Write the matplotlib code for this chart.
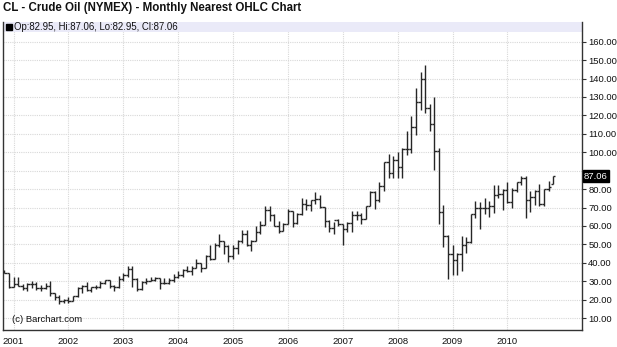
import matplotlib
matplotlib.use("Agg")
import matplotlib.pyplot as plt
from matplotlib.patches import Rectangle

plt.rcParams['font.family'] = ['Liberation Sans', 'DejaVu Sans']

months = [
    "2000-11", "2000-12",
    "2001-01", "2001-02", "2001-03", "2001-04", "2001-05", "2001-06", "2001-07", "2001-08", "2001-09", "2001-10", "2001-11", "2001-12",
    "2002-01", "2002-02", "2002-03", "2002-04", "2002-05", "2002-06", "2002-07", "2002-08", "2002-09", "2002-10", "2002-11", "2002-12",
    "2003-01", "2003-02", "2003-03", "2003-04", "2003-05", "2003-06", "2003-07", "2003-08", "2003-09", "2003-10", "2003-11", "2003-12",
    "2004-01", "2004-02", "2004-03", "2004-04", "2004-05", "2004-06", "2004-07", "2004-08", "2004-09", "2004-10", "2004-11", "2004-12",
    "2005-01", "2005-02", "2005-03", "2005-04", "2005-05", "2005-06", "2005-07", "2005-08", "2005-09", "2005-10", "2005-11", "2005-12",
    "2006-01", "2006-02", "2006-03", "2006-04", "2006-05", "2006-06", "2006-07", "2006-08", "2006-09", "2006-10", "2006-11", "2006-12",
    "2007-01", "2007-02", "2007-03", "2007-04", "2007-05", "2007-06", "2007-07", "2007-08", "2007-09", "2007-10", "2007-11", "2007-12",
    "2008-01", "2008-02", "2008-03", "2008-04", "2008-05", "2008-06", "2008-07", "2008-08", "2008-09", "2008-10", "2008-11", "2008-12",
    "2009-01", "2009-02", "2009-03", "2009-04", "2009-05", "2009-06", "2009-07", "2009-08", "2009-09", "2009-10", "2009-11", "2009-12",
    "2010-01", "2010-02", "2010-03", "2010-04", "2010-05", "2010-06", "2010-07", "2010-08", "2010-09", "2010-10", "2010-11",
]

opens = [
    35.0, 34.3,
    26.8, 28.7, 27.4, 26.3, 28.5, 28.4, 26.3, 26.4, 27.2, 23.4, 21.2, 19.4,
    19.8, 19.5, 21.7, 26.3, 27.3, 25.3, 26.9, 27.0, 29.0, 30.5, 27.2, 26.9,
    31.2, 33.5, 36.6, 31.0, 25.8, 29.6, 30.2, 30.5, 31.6, 29.2, 29.1, 30.4,
    32.5, 33.1, 36.2, 35.8, 37.4, 39.9, 37.1, 43.8, 42.1, 49.6, 51.8, 49.1,
    43.5, 48.2, 51.8, 55.4, 49.7, 52.0, 56.5, 60.6, 68.9, 66.2, 59.8, 57.3,
    61.0, 67.9, 61.4, 66.6, 71.9, 71.3, 73.9, 74.4, 70.3, 62.9, 58.7, 63.1,
    61.1, 58.1, 61.8, 65.9, 65.7, 64.0, 70.7, 78.2, 74.0, 81.7, 94.5, 88.7,
    96.0, 91.8, 101.8, 101.6, 113.5, 127.4, 140.0, 124.1, 115.5, 100.6, 67.8, 54.4,
    44.6, 41.7, 44.8, 49.7, 51.1, 66.3, 69.9, 69.5, 70.0, 70.6, 77.0, 77.3,
    79.4, 72.9, 79.7, 83.8, 86.2, 74.0, 75.6, 79.0, 71.9, 80.0, 82.95,
]

highs = [
    36.0, 34.5,
    32.2, 32.1, 28.3, 29.0, 30.2, 29.6, 27.7, 28.8, 30.0, 23.6, 22.6, 20.4,
    21.5, 21.9, 26.6, 27.7, 29.4, 27.0, 28.2, 30.0, 30.9, 30.9, 28.2, 32.7,
    34.6, 38.0, 38.0, 31.9, 30.0, 31.5, 32.4, 32.5, 31.8, 31.7, 32.0, 33.7,
    35.3, 36.4, 38.4, 38.3, 42.3, 40.0, 44.0, 49.4, 50.5, 55.7, 52.0, 49.4,
    49.5, 52.1, 57.6, 57.7, 52.5, 60.0, 62.5, 70.9, 70.8, 66.5, 62.5, 61.7,
    69.2, 68.0, 67.0, 75.4, 74.7, 74.0, 78.4, 77.0, 70.4, 63.4, 62.3, 64.0,
    61.1, 62.2, 68.1, 67.9, 66.8, 70.7, 78.8, 78.8, 83.9, 94.7, 99.3, 97.8,
    100.1, 102.1, 111.8, 119.9, 135.1, 143.7, 147.3, 126.3, 130.0, 102.2, 71.2, 55.0,
    49.6, 45.3, 54.7, 54.0, 66.6, 73.4, 72.9, 75.0, 73.4, 82.0, 82.0, 79.9,
    83.95, 80.5, 83.9, 87.2, 87.2, 79.1, 79.3, 82.8, 80.2, 84.4, 87.06,
]

lows = [
    34.3, 26.3,
    26.6, 27.3, 25.3, 24.9, 26.5, 25.4, 24.9, 25.9, 21.8, 19.9, 17.5, 17.9,
    17.9, 19.4, 21.2, 23.4, 24.9, 24.1, 25.8, 26.4, 28.5, 26.5, 24.9, 26.1,
    30.0, 32.5, 26.9, 24.8, 25.1, 28.5, 29.9, 30.1, 26.0, 28.3, 28.4, 29.6,
    31.8, 32.3, 35.0, 33.5, 37.0, 35.2, 37.0, 41.5, 42.0, 48.5, 45.0, 40.3,
    42.0, 44.9, 50.5, 49.2, 46.2, 52.0, 55.7, 60.6, 62.7, 59.8, 56.0, 57.2,
    61.0, 59.2, 60.9, 66.2, 68.5, 68.1, 72.0, 69.9, 59.5, 56.6, 55.5, 60.0,
    49.9, 56.9, 56.5, 63.0, 61.3, 64.0, 70.6, 69.0, 72.8, 78.7, 86.0, 86.1,
    86.1, 86.1, 98.7, 99.6, 109.1, 122.7, 121.4, 111.3, 90.5, 61.3, 48.3, 31.0,
    33.6, 33.6, 35.6, 45.3, 50.5, 64.4, 58.3, 66.5, 65.1, 66.8, 75.3, 68.6,
    72.4, 69.5, 78.2, 82.1, 64.2, 67.8, 71.1, 70.8, 70.8, 79.0, 82.95,
]

closes = [
    34.6, 26.8,
    28.7, 27.4, 26.3, 28.5, 28.4, 26.3, 26.4, 27.2, 23.4, 21.2, 19.4, 19.8,
    19.5, 21.7, 26.3, 27.3, 25.3, 26.9, 27.0, 29.0, 30.5, 27.2, 26.9, 31.2,
    33.5, 36.6, 31.0, 25.8, 29.6, 30.2, 30.5, 31.6, 29.2, 29.1, 30.4, 32.5,
    33.1, 36.2, 35.8, 37.4, 39.9, 37.1, 43.8, 42.1, 49.6, 51.8, 49.1, 43.5,
    48.2, 51.8, 55.4, 49.7, 52.0, 56.5, 60.6, 68.9, 66.2, 59.8, 57.3, 61.0,
    67.9, 61.4, 66.6, 71.9, 71.3, 73.9, 74.4, 70.3, 62.9, 58.7, 63.1, 61.1,
    58.1, 61.8, 65.9, 65.7, 64.0, 70.7, 78.2, 74.0, 81.7, 94.5, 88.7, 96.0,
    91.8, 101.8, 101.6, 113.5, 127.4, 140.0, 124.1, 115.5, 100.6, 67.8, 54.4, 44.6,
    41.7, 44.8, 49.7, 51.1, 66.3, 69.9, 69.5, 70.0, 70.6, 77.0, 77.3, 79.4,
    72.9, 79.7, 83.8, 86.2, 74.0, 75.6, 79.0, 71.9, 80.0, 81.4, 87.06,
]

year_labels = ["2001", "2002", "2003", "2004", "2005", "2006", "2007", "2008", "2009", "2010"]
price_ticks = [10, 20, 30, 40, 50, 60, 70, 80, 90, 100, 110, 120, 130, 140, 150, 160]

title = "CL - Crude Oil (NYMEX) - Monthly Nearest OHLC Chart"
legend_text = "Op:82.95, Hi:87.06, Lo:82.95, Cl:87.06"
last_price = closes[-1]


def month_index(s):
    y, m = s.split("-")
    return (int(y) - 2001) * 12 + int(m) - 1


xs = [month_index(m) for m in months]

W, H = 617, 347
fig = plt.figure(figsize=(W / 100, H / 100), dpi=100)
fig.patch.set_facecolor("white")
ax = fig.add_axes([3 / W, 1 - 330 / H, (582 - 3) / W, (330 - 22) / H])
ax.set_facecolor("white")

ax.set_xlim(-2.3, 124.3)
ax.set_ylim(3.5, 170.7)

grid_c = "#d8d8d8"
for t in price_ticks:
    ax.axhline(t, color=grid_c, lw=0.8, ls=(0, (1, 1)), zorder=0)
year_x = [month_index(y + "-01") for y in year_labels]
for x in year_x:
    ax.axvline(x, color=grid_c, lw=0.8, ls=(0, (1, 1)), zorder=0)

bar_c = "#262626"
tick_w = 0.5
ax.vlines(xs, lows, highs, color=bar_c, lw=1.0, zorder=3)
ax.hlines(opens, [x - tick_w for x in xs], xs, color=bar_c, lw=1.0, zorder=3)
ax.hlines(closes, xs, [x + tick_w for x in xs], color=bar_c, lw=1.0, zorder=3)

# axes styling
for s in ["left", "bottom", "right"]:
    ax.spines[s].set_color("#333333")
    ax.spines[s].set_linewidth(1.0)
ax.spines["top"].set_visible(False)

ax.yaxis.tick_right()
ax.set_yticks(price_ticks)
# the label nearest the last-price box is hidden by it in the reference
ax.set_yticklabels(["" if abs(t - last_price) < 6 else f"{t:.2f}" for t in price_ticks])
ax.tick_params(axis="y", direction="out", length=3, width=0.8, color="#333333",
               labelsize=6.8, pad=1.5, labelcolor="#111111")
ax.set_xticks(year_x)
ax.set_xticklabels(year_labels)
ax.tick_params(axis="x", length=0, labelsize=6.8, pad=5, labelcolor="#111111")

# legend band
ax.add_patch(Rectangle((0, 1 - 10 / 308), 1, 10 / 308, transform=ax.transAxes,
                       facecolor="#eaeaf8", edgecolor="none", zorder=1))
ax.plot([0.0105], [1 - 5 / 308], marker="s", ms=4.2, color="black",
        transform=ax.transAxes, zorder=4, clip_on=False)
ax.text(0.0195, 1 - 5.3 / 308, legend_text, transform=ax.transAxes,
        fontsize=6.9, va="center", ha="left", color="#111111", zorder=4)

# copyright
ax.text(0.016, 10 / 308, "(c) Barchart.com", transform=ax.transAxes,
        fontsize=6.8, va="center", ha="left", color="#111111", zorder=4)

# title
fig.text(3 / W, 1 - 8 / H, title, fontsize=8.3, fontweight="bold",
         va="center", ha="left", color="#111111")

# last price box
ax.text(1.003, last_price, f"{last_price:.2f}", transform=ax.get_yaxis_transform(),
        fontsize=6.8, va="center", ha="left", color="white", zorder=5,
        bbox=dict(boxstyle="square,pad=0.12", facecolor="black", edgecolor="black"),
        clip_on=False)

fig.savefig("out.png", dpi=100, facecolor="white")
